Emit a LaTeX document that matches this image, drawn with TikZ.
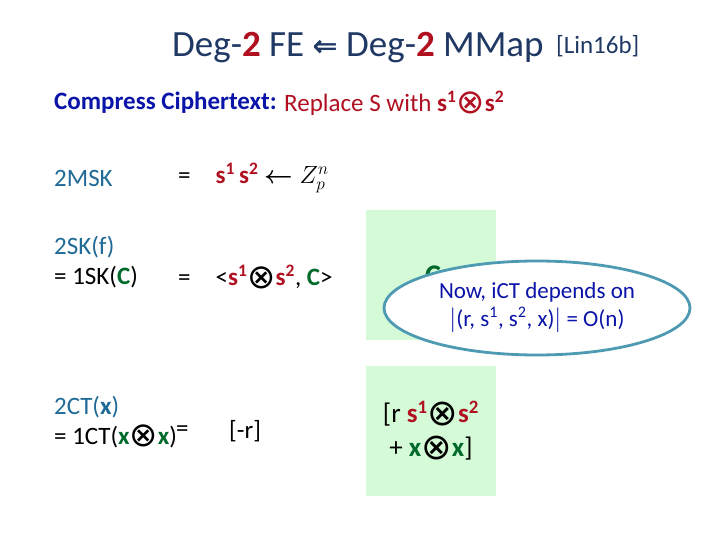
\documentclass[tikz,border=0pt]{standalone}
\usepackage{fontspec}
\usepackage{amsmath}
\usetikzlibrary{shapes.geometric}
\setmainfont{Carlito}
\definecolor{navy}{HTML}{1F3864}
\definecolor{dblue}{HTML}{0A14A8}
\definecolor{dred}{HTML}{B01020}
\definecolor{tealb}{HTML}{1F6A96}
\definecolor{dgreen}{HTML}{006A2A}
\definecolor{lgreen}{HTML}{D4FAD8}
\definecolor{ell}{HTML}{4E9AB2}
\newcommand{\otm}{\raisebox{-0.1em}{\scalebox{1.35}{\fontspec{DejaVu Sans}\char"2297}}}
\newcommand{\sone}{\textbf{s\textsuperscript{1}}}
\newcommand{\stwo}{\textbf{s\textsuperscript{2}}}
\begin{document}
\begin{tikzpicture}[x=1pt,y=-1pt,
  t/.style={anchor=west,inner sep=0pt,font=\fontsize{25}{30}\selectfont,align=left},
  gbox/.style={fill=lgreen,draw=none}]
\useasboundingbox (0,0) rectangle (720,540);
\node[anchor=base west,inner sep=0pt,font=\fontsize{37}{42}\selectfont,text=navy] (title) at (172,57) {Deg-\textcolor{dred}{\textbf{2}} FE \raisebox{0.02em}{\fontspec{DejaVu Sans}\fontsize{30}{34}\selectfont\textbf{⇐}} Deg-\textcolor{dred}{\textbf{2}} MMap};
\node[anchor=base west,inner sep=0pt,font=\fontsize{25}{28}\selectfont,text=navy] (ref) at (556,54) {[Lin16b]};
\node[t,text=dblue] (cc) at (54,103) {\textbf{Compress Ciphertext:}};
\node[t,text=dred] (rep) at (284,103) {Replace S with \sone\otm\stwo};
\node[t,text=tealb] (msk) at (54,178) {2MSK};
\node[t] (eq1) at (178,178) {=\quad\textcolor{dred}{\sone\,\stwo} $\boldsymbol{\leftarrow} Z_p^n$};
\node[t] (sk) at (54,262) {\textcolor{tealb}{2SK(f)}\\= 1SK(\textcolor{dgreen}{\textbf{C}})};
\node[t] (eq2) at (178,277) {=\quad <\textcolor{dred}{\sone}\otm\textcolor{dred}{\stwo}, \textcolor{dgreen}{\textbf{C}}>};
\node[t] (ct) at (54,422) {\textcolor{tealb}{2CT(\textbf{x})}\\= 1CT(\textcolor{dgreen}{\textbf{x}}\otm\textcolor{dgreen}{\textbf{x}})};
\node[t] (eq3) at (176,431) {=};
\node[t] (mr) at (229,431) {[-r]};
\fill[gbox] (366,210) rectangle (496,340);
\node[inner sep=0pt,font=\fontsize{30}{34}\selectfont\bfseries,text=dgreen] (c) at (433,276) {C};
\fill[gbox] (366,366) rectangle (496,496);
\node[align=center,inner sep=0pt,font=\fontsize{27}{34}\selectfont] (vec) at (431,431) {[r \textcolor{dred}{\sone}\otm\textcolor{dred}{\stwo}\\+ \textcolor{dgreen}{\textbf{x}}\otm\textcolor{dgreen}{\textbf{x}}]};
\node[ellipse,draw=ell,line width=2.8pt,fill=white,minimum width=306pt,minimum height=94pt,inner sep=0pt,align=center,font=\fontsize{23}{28}\selectfont,text=dblue] (note) at (537,308) {Now, iCT depends on\\$|$(r, s\textsuperscript{1}, s\textsuperscript{2}, x)$|$ = O(n)};
\end{tikzpicture}
\end{document}
